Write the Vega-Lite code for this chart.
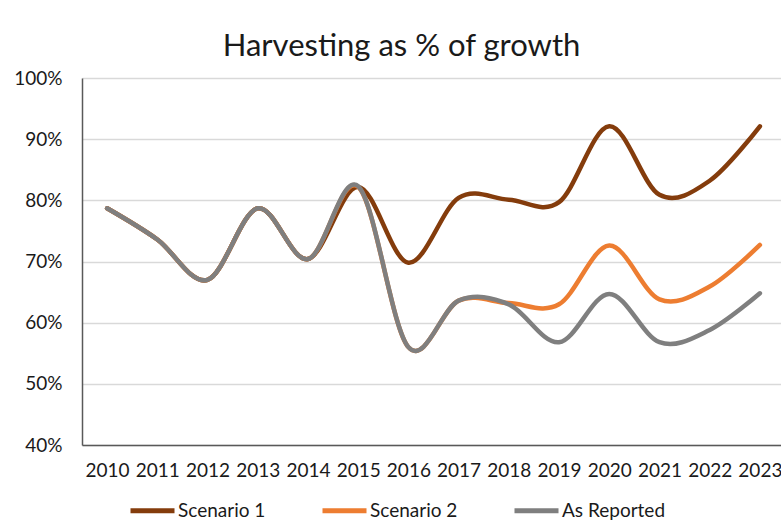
{
  "$schema": "https://vega.github.io/schema/vega-lite/v6.json",
  "width": 703,
  "height": 367,
  "autosize": {"type": "none"},
  "padding": {"left": 82, "top": 78, "right": 0, "bottom": 84},
  "background": "white",
  "title": {
    "text": "Harvesting as % of growth",
    "font": "Lato",
    "fontSize": 31,
    "fontWeight": "normal",
    "color": "#1a1a1a",
    "anchor": "middle",
    "dx": -32,
    "offset": 6
  },
  "config": {"view": {"stroke": null}},
  "data": {
    "values": [
      {"series": "Scenario 1", "year": "2010", "pct": 0.787},
      {"series": "Scenario 1", "year": "2011", "pct": 0.736},
      {"series": "Scenario 1", "year": "2012", "pct": 0.670},
      {"series": "Scenario 1", "year": "2013", "pct": 0.787},
      {"series": "Scenario 1", "year": "2014", "pct": 0.704},
      {"series": "Scenario 1", "year": "2015", "pct": 0.822},
      {"series": "Scenario 1", "year": "2016", "pct": 0.698},
      {"series": "Scenario 1", "year": "2017", "pct": 0.804},
      {"series": "Scenario 1", "year": "2018", "pct": 0.801},
      {"series": "Scenario 1", "year": "2019", "pct": 0.797},
      {"series": "Scenario 1", "year": "2020", "pct": 0.921},
      {"series": "Scenario 1", "year": "2021", "pct": 0.809},
      {"series": "Scenario 1", "year": "2022", "pct": 0.832},
      {"series": "Scenario 1", "year": "2023", "pct": 0.921},
      {"series": "Scenario 2", "year": "2010", "pct": 0.787},
      {"series": "Scenario 2", "year": "2011", "pct": 0.736},
      {"series": "Scenario 2", "year": "2012", "pct": 0.670},
      {"series": "Scenario 2", "year": "2013", "pct": 0.787},
      {"series": "Scenario 2", "year": "2014", "pct": 0.704},
      {"series": "Scenario 2", "year": "2015", "pct": 0.822},
      {"series": "Scenario 2", "year": "2016", "pct": 0.560},
      {"series": "Scenario 2", "year": "2017", "pct": 0.636},
      {"series": "Scenario 2", "year": "2018", "pct": 0.632},
      {"series": "Scenario 2", "year": "2019", "pct": 0.630},
      {"series": "Scenario 2", "year": "2020", "pct": 0.726},
      {"series": "Scenario 2", "year": "2021", "pct": 0.638},
      {"series": "Scenario 2", "year": "2022", "pct": 0.659},
      {"series": "Scenario 2", "year": "2023", "pct": 0.727},
      {"series": "As Reported", "year": "2010", "pct": 0.787},
      {"series": "As Reported", "year": "2011", "pct": 0.736},
      {"series": "As Reported", "year": "2012", "pct": 0.670},
      {"series": "As Reported", "year": "2013", "pct": 0.787},
      {"series": "As Reported", "year": "2014", "pct": 0.704},
      {"series": "As Reported", "year": "2015", "pct": 0.823},
      {"series": "As Reported", "year": "2016", "pct": 0.560},
      {"series": "As Reported", "year": "2017", "pct": 0.636},
      {"series": "As Reported", "year": "2018", "pct": 0.630},
      {"series": "As Reported", "year": "2019", "pct": 0.568},
      {"series": "As Reported", "year": "2020", "pct": 0.647},
      {"series": "As Reported", "year": "2021", "pct": 0.568},
      {"series": "As Reported", "year": "2022", "pct": 0.588},
      {"series": "As Reported", "year": "2023", "pct": 0.648}
    ]
  },
  "mark": {"type": "line", "interpolate": "cardinal", "strokeWidth": 4.5, "strokeCap": "round"},
  "encoding": {
    "x": {
      "field": "year",
      "type": "ordinal",
      "scale": {"type": "point", "padding": 0.5},
      "axis": {
        "title": null,
        "labelAngle": 0,
        "ticks": false,
        "domainColor": "#595959",
        "domainWidth": 1.5,
        "labelFont": "Lato",
        "labelFontSize": 19,
        "labelColor": "#1a1a1a",
        "labelPadding": 16
      }
    },
    "y": {
      "field": "pct",
      "type": "quantitative",
      "scale": {"domain": [0.4, 1.0]},
      "axis": {
        "title": null,
        "format": ".0%",
        "values": [0.4, 0.5, 0.6, 0.7, 0.8, 0.9, 1.0],
        "ticks": false,
        "domainColor": "#595959",
        "domainWidth": 1.5,
        "gridColor": "#d9d9d9",
        "gridWidth": 1.5,
        "labelFont": "Lato",
        "labelFontSize": 19,
        "labelColor": "#1a1a1a",
        "labelPadding": 20
      }
    },
    "color": {
      "field": "series",
      "type": "nominal",
      "sort": ["Scenario 1", "Scenario 2", "As Reported"],
      "scale": {
        "domain": ["Scenario 1", "Scenario 2", "As Reported"],
        "range": ["#843c0c", "#ed7d31", "#7f7f7f"]
      },
      "legend": {
        "title": null,
        "orient": "none",
        "legendX": 46,
        "legendY": 408,
        "direction": "horizontal",
        "columns": 3,
        "padding": 0,
        "symbolType": "stroke",
        "symbolSize": 1936,
        "symbolStrokeWidth": 5,
        "labelFont": "Lato",
        "labelFontSize": 19,
        "labelColor": "#1a1a1a",
        "labelOffset": 1,
        "columnPadding": 46
      }
    }
  }
}
